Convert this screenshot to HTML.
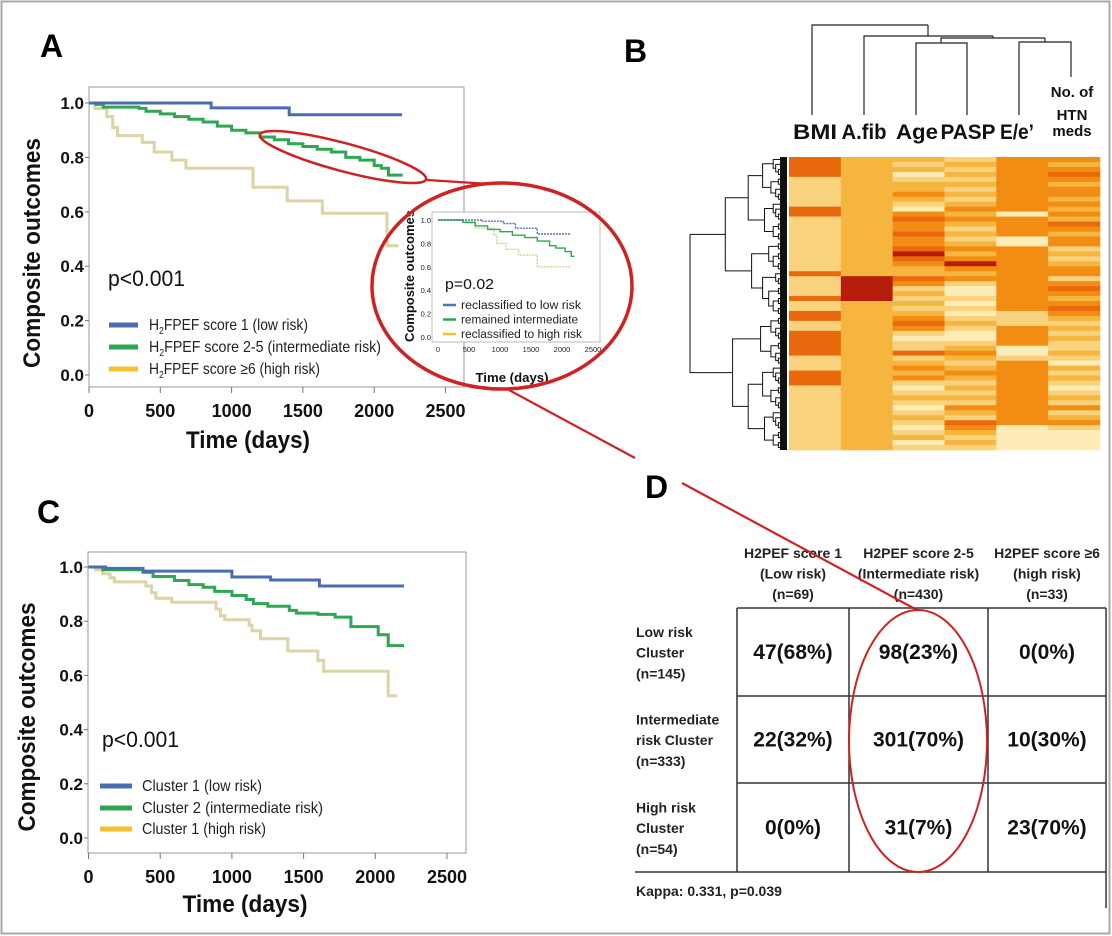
<!DOCTYPE html>
<html><head><meta charset="utf-8"><style>
html,body{margin:0;padding:0;background:#fff;}
svg{display:block;font-family:"Liberation Sans",sans-serif;}
</style></head><body>
<svg id="fig" width="1112" height="936" viewBox="0 0 1112 936">
<rect x="1.5" y="1.5" width="1108" height="932" fill="#fff" stroke="#a8a8a8" stroke-width="2"/>
<g id="gA"></g>
<g id="gB"></g>
<g id="gC"></g>
<g id="gD"></g>
<g id="gR"></g>
</svg>
<script>
// ---- Panel A data ----
const aLowT=[0,856,1404,2195];
const aLowS=[1,0.982,0.957,0.957];
const aIntT=[0,50,100,350,400,500,600,700,800,900,1000,1100,1200,1300,1400,1500,1600,1700,1800,1900,2000,2050,2100,2200];
const aIntS=[1,0.995,0.985,0.98,0.97,0.96,0.95,0.94,0.93,0.915,0.9,0.89,0.875,0.865,0.85,0.84,0.83,0.82,0.8,0.79,0.77,0.76,0.735,0.735];
const aHighT=[0,40,125,166,200,374,457,581,680,1150,1390,1636,2090,2170];
const aHighS=[1,0.98,0.95,0.91,0.88,0.855,0.82,0.79,0.76,0.69,0.64,0.595,0.475,0.475];
// ---- Inset data ----
const iLowT=[0,700,1050,1250,1600,2150];
const iLowS=[1,0.99,0.97,0.93,0.88,0.88];
const iIntT=[0,400,600,800,1000,1200,1400,1600,1800,1900,2050,2150,2200];
const iIntS=[1,0.98,0.95,0.92,0.9,0.87,0.85,0.82,0.78,0.76,0.73,0.69,0.69];
const iHighT=[0,450,600,900,950,1100,1300,1600,2150];
const iHighS=[1,0.97,0.93,0.87,0.8,0.75,0.7,0.6,0.6];
// ---- Panel C data ----
const cLowT=[0,120,380,1000,1270,1610,2200];
const cLowS=[1,0.995,0.985,0.963,0.952,0.93,0.93];
const cIntT=[0,100,380,450,600,700,800,880,1000,1100,1150,1250,1400,1450,1600,1720,1830,2020,2090,2200];
const cIntS=[1,0.99,0.98,0.965,0.95,0.935,0.925,0.91,0.895,0.88,0.865,0.855,0.84,0.83,0.825,0.815,0.78,0.75,0.71,0.71];
const cHighT=[0,50,100,150,180,400,440,470,580,890,920,950,1120,1140,1200,1390,1600,1640,2090,2150];
const cHighS=[1,0.99,0.975,0.96,0.945,0.93,0.905,0.885,0.87,0.845,0.82,0.805,0.785,0.765,0.735,0.69,0.655,0.615,0.525,0.525];
const xTicks=[0,500,1000,1500,2000,2500];
const yTicks=[0,0.2,0.4,0.6,0.8,1.0];
const yTickLabels=["0.0","0.2","0.4","0.6","0.8","1.0"];
// ---- Panel B data ----
const hmVars=["BMI","A.fib","Age","PASP","E/e'","HTN"];
const hmBMI ="44441111114411111111111411114114411444441114441111111111111";
const hmAfib="22222222222222222222222255555222222222222222222222222222222";
const hmAge ="21201223210343343345432243121212343101141232310121012101201";
const hmPASP="12121212123232121232353231001010121001232123212121321432121020";
const hmEe  ="33333333333033330033333333333331113333001333333333333300000000";
const hmHTN ="32343233232324323312123313432343212121121021210121312310000";
// ---- Panel D data ----
const dColHead=[["H2PEF score 1","(Low risk)","(n=69)"],["H2PEF score 2-5","(Intermediate risk)","(n=430)"],["H2PEF score ≥6","(high risk)","(n=33)"]];
const dRowHead=[["Low risk","Cluster","(n=145)"],["Intermediate","risk Cluster","(n=333)"],["High risk","Cluster","(n=54)"]];
const dCells=[["47(68%)","98(23%)","0(0%)"],["22(32%)","301(70%)","10(30%)"],["0(0%)","31(7%)","23(70%)"]];

const NS="http://www.w3.org/2000/svg";
function mk(parent,tag,attrs,text){const e=document.createElementNS(NS,tag);for(const k in attrs)e.setAttribute(k,attrs[k]);if(text!==undefined)e.textContent=text;parent.appendChild(e);return e;}
function stepPath(T,S,xf,yf){let d="M"+xf(T[0]).toFixed(1)+","+yf(S[0]).toFixed(1);for(let i=1;i<T.length;i++){d+=" H"+xf(T[i]).toFixed(1)+" V"+yf(S[i]).toFixed(1);}return d;}
const BLUE="#4a6db2",GREEN="#2fa650",TAN="#dcd3a6",YEL="#f2c230",RED="#cf2222";

function kmPanel(g,cfg){
  const xf=t=>cfg.x0+t*(cfg.x1-cfg.x0)/2500, yf=s=>cfg.y0-s*(cfg.y0-cfg.y1);
  let e=mk(g,"rect",{x:cfg.bx0,y:cfg.by0,width:cfg.bx1-cfg.bx0,height:cfg.by1-cfg.by0,fill:"none",stroke:"#9a9a9a","stroke-width":1});
  
  xTicks.forEach((t,i)=>{
    let l=mk(g,"line",{x1:xf(t),x2:xf(t),y1:cfg.by1,y2:cfg.by1+6,stroke:"#777"});
    
    let tx=mk(g,"text",{x:xf(t),y:cfg.by1+30,"font-size":18,"font-weight":"bold","text-anchor":"middle",fill:"#111"},String(t));
    
  });
  yTicks.forEach((v,i)=>{
    let l=mk(g,"line",{x1:cfg.bx0-4,x2:cfg.bx0,y1:yf(v),y2:yf(v),stroke:"#777"});
    
    let tx=mk(g,"text",{x:cfg.bx0-5,y:yf(v)+6,"font-size":17,"font-weight":"bold","text-anchor":"end",fill:"#111"},yTickLabels[i]);
    
  });
  cfg.series.forEach(s=>{
    let p=mk(g,"path",{d:stepPath(s.T,s.S,xf,yf),fill:"none",stroke:s.c,"stroke-width":s.w||3});
    
  });
  let yt=mk(g,"text",{transform:`translate(${cfg.ytx},${cfg.yty}) rotate(-90)`,"font-size":24,"font-weight":"bold","text-anchor":"middle",textLength:cfg.ytl,lengthAdjust:"spacingAndGlyphs",fill:"#111"},"Composite outcomes");
  
  let xt=mk(g,"text",{x:cfg.xtx,y:cfg.xty,"font-size":24,"font-weight":"bold","text-anchor":"middle",textLength:cfg.xtl,lengthAdjust:"spacingAndGlyphs",fill:"#111"},"Time (days)");
  
  let pv=mk(g,"text",{x:cfg.px,y:cfg.py,"font-size":22,textLength:77,lengthAdjust:"spacingAndGlyphs",fill:"#111"},"p<0.001");
  
  cfg.legend.forEach((L,i)=>{
    let y=cfg.ly[i];
    let l=mk(g,"line",{x1:cfg.lx0,x2:cfg.lx1,y1:y,y2:y,stroke:L.c,"stroke-width":5});
    
    let t=mk(g,"text",{x:cfg.ltx,y:y+5,"font-size":16,fill:"#222",textLength:L.w,lengthAdjust:"spacingAndGlyphs"});
    
    if(L.sub){mk(t,"tspan",{},"H");mk(t,"tspan",{"font-size":10,dy:4},"2");mk(t,"tspan",{dy:-4},L.text);}else t.textContent=L.text;
  });
}
const gA=document.getElementById("gA");
let la=mk(gA,"text",{x:40,y:57,"font-size":32,"font-weight":"bold",fill:"#000"},"A");

kmPanel(gA,{x0:89,x1:445.5,y0:375,y1:103,bx0:89,bx1:464,by0:87,by1:387,
 series:[{T:aHighT,S:aHighS,c:TAN,name:'line-high-risk'},{T:aIntT,S:aIntS,c:GREEN,name:'line-intermediate-risk'},{T:aLowT,S:aLowS,c:BLUE,name:'line-low-risk'}],
 ytx:40,yty:253,ytl:230,xtx:248,xty:448,xtl:124,px:108,py:286,
 lx0:109,lx1:138,ltx:149,ly:[325,347,369],
 legend:[{c:BLUE,sub:1,text:"FPEF score 1 (low risk)",w:159},{c:GREEN,sub:1,text:"FPEF score 2-5 (intermediate risk)",w:232},{c:YEL,sub:1,text:"FPEF score ≥6 (high risk)",w:171}]});

// inset
(function(){
  const g=mk(gA,"g",{});
  
  const xf=t=>438+t*(593-438)/2500, yf=s=>337-s*117;
  let r=mk(g,"rect",{x:432,y:212,width:168,height:130,fill:"#fff",stroke:"#bbb"});
  
  xTicks.forEach(t=>{let tx=mk(g,"text",{x:xf(t),y:352,"font-size":7.5,"text-anchor":"middle",fill:"#222"},String(t));});
  yTicks.forEach((v,i)=>{let tx=mk(g,"text",{x:431,y:yf(v)+3,"font-size":7.5,"text-anchor":"end",fill:"#222"},yTickLabels[i]);});
  [[iHighT,iHighS,"#d9cf98","2,1",'inset-line-high'],[iIntT,iIntS,GREEN,null,'inset-line-intermediate'],[iLowT,iLowS,"#5670b0","2,1",'inset-line-low']].forEach(s=>{
    const a={d:stepPath(s[0],s[1],xf,yf),fill:"none",stroke:s[2],"stroke-width":1.4};if(s[3])a["stroke-dasharray"]=s[3];
    let p=mk(g,"path",a);
  });
  let yt=mk(g,"text",{transform:"translate(414,276) rotate(-90)","font-size":13,"font-weight":"bold","text-anchor":"middle",textLength:132,lengthAdjust:"spacingAndGlyphs",fill:"#111"},"Composite outcomes");
  
  let xt=mk(g,"text",{x:512,y:382,"font-size":13,"font-weight":"bold","text-anchor":"middle",textLength:73,lengthAdjust:"spacingAndGlyphs",fill:"#111"},"Time (days)");
  
  let pv=mk(g,"text",{x:445,y:289,"font-size":15,textLength:49,lengthAdjust:"spacingAndGlyphs",fill:"#111"},"p=0.02");
  
  [["#5670b0","reclassified to low risk",120],[GREEN,"remained intermediate",117],[YEL,"reclassified to high risk",121]].forEach((L,i)=>{
    const y=305+i*14.5;
    let l=mk(g,"line",{x1:443,x2:456,y1:y,y2:y,stroke:L[0],"stroke-width":2.5});
    let t=mk(g,"text",{x:461,y:y+4,"font-size":11.5,fill:"#222",textLength:L[2],lengthAdjust:"spacingAndGlyphs"},L[1]);
  });
})();

const gC=document.getElementById("gC");
let lc=mk(gC,"text",{x:37,y:523,"font-size":32,"font-weight":"bold",fill:"#000"},"C");

kmPanel(gC,{x0:88.5,x1:447,y0:838,y1:567,bx0:88,bx1:466,by0:552,by1:853,
 series:[{T:cHighT,S:cHighS,c:TAN,name:'line-high-risk'},{T:cIntT,S:cIntS,c:GREEN,name:'line-intermediate-risk'},{T:cLowT,S:cLowS,c:BLUE,name:'line-low-risk'}],
 ytx:35,yty:717,ytl:229,xtx:245,xty:912,xtl:125,px:102,py:747,
 lx0:100,lx1:132,ltx:142,ly:[786,808,829],
 legend:[{c:BLUE,text:"Cluster 1 (low risk)",w:120},{c:GREEN,text:"Cluster 2 (intermediate risk)",w:181},{c:YEL,text:"Cluster 1 (high risk)",w:124}]});

// ---- Panel B ----
const gB=document.getElementById("gB");
let lb=mk(gB,"text",{x:624,y:62,"font-size":32,"font-weight":"bold",fill:"#000"},"B");

const hmColors=["#fdecb6","#f9d27d","#f5b53f","#f28c12","#ea690c","#b51c0a"];
const hmCols=[hmBMI,hmAfib,hmAge,hmPASP,hmEe,hmHTN];
const NROW=59, HX0=789, HX1=1100, HY0=157, HY1=450;
const cw=(HX1-HX0)/6, rh=(HY1-HY0)/NROW;
hmCols.forEach((col,ci)=>{
  for(let r=0;r<NROW;r++){
    const v=+col[r];
    let c=mk(gB,"rect",{x:HX0+ci*cw,y:HY0+r*rh,width:cw+0.3,height:rh+0.3,fill:hmColors[v]});
    
  }
});
// column labels
[["BMI",815,44],["A.fib",864,45],["Age",917,42],["PASP",968,55],["E/e’",1017,34]].forEach(L=>{
  let t=mk(gB,"text",{x:L[1],y:139,"font-size":21,"font-weight":"bold","text-anchor":"middle",textLength:L[2],lengthAdjust:"spacingAndGlyphs",fill:"#111"},L[0]);
  
});
[["No. of",97],["HTN",120],["meds",136]].forEach(L=>{
  let t=mk(gB,"text",{x:1072,y:L[1],"font-size":15,"font-weight":"bold","text-anchor":"middle",fill:"#111"},L[0]);
  
});
// top dendrogram
(function(){
  const d="M812,115 V25 H928 M864,115 V36 H993 M916,115 V43 H967 V115 M941,43 V38 H1045 M1019,115 V42 H1071 V77 M1045,42 V38 M993,38 V36 M928,25 V36";
  let p=mk(gB,"path",{d:d,fill:"none",stroke:"#222","stroke-width":1.2});
  
})();
// left dendrogram
(function(){
  let d="";
  function build(lo,hi){
    if(hi===lo) return {x:786,y:HY0+(lo+0.5)*rh};
    const n=hi-lo+1;
    const mid=lo+Math.max(0,Math.floor(n*((lo+hi)%3===0?0.4:0.55))-1);
    const a=build(lo,mid), b=build(mid+1,hi);
    const x=786-96*Math.pow(n/NROW,0.75);
    d+=`M${a.x.toFixed(1)},${a.y.toFixed(1)} H${x.toFixed(1)} V${b.y.toFixed(1)} H${b.x.toFixed(1)} `;
    return {x:x,y:(a.y+b.y)/2};
  }
  build(0,NROW-1);
  let p=mk(gB,"path",{d:d,fill:"none",stroke:"#111","stroke-width":1});
  
  let s=mk(gB,"rect",{x:780,y:HY0,width:7,height:HY1-HY0,fill:"#111"});
  
})();

// ---- Panel D ----
const gD=document.getElementById("gD");
let ld=mk(gD,"text",{x:645,y:498,"font-size":32,"font-weight":"bold",fill:"#000"},"D");

const colX=[737,849,988,1106], rowY=[608,696,783,872];
dColHead.forEach((h,ci)=>{
  const cx=(colX[ci]+colX[ci+1])/2;
  h.forEach((s,li)=>{let t=mk(gD,"text",{x:cx,y:558+li*20.5,"font-size":14,"font-weight":"bold","text-anchor":"middle",fill:"#222"},s);});
});
dRowHead.forEach((h,ri)=>{
  const cy=(rowY[ri]+rowY[ri+1])/2;
  h.forEach((s,li)=>{let t=mk(gD,"text",{x:636,y:cy-15+li*20.7,"font-size":14,"font-weight":"bold",fill:"#222"},s);});
});
dCells.forEach((row,ri)=>row.forEach((v,ci)=>{
  let t=mk(gD,"text",{x:(colX[ci]+colX[ci+1])/2,y:(rowY[ri]+rowY[ri+1])/2+7,"font-size":21,"font-weight":"bold","text-anchor":"middle",fill:"#111"},v);
  
}));
(function(){
  let d="";
  colX.forEach(x=>{d+=`M${x},${rowY[0]} V${rowY[3]} `;});
  rowY.forEach((y,i)=>{d+=`M${i===3?635:colX[0]},${y} H${colX[3]} `;});
  d+=`M${colX[3]},${rowY[3]} V908`;
  let p=mk(gD,"path",{d:d,fill:"none",stroke:"#333","stroke-width":1.5});
  
  let k=mk(gD,"text",{x:636,y:896,"font-size":14,"font-weight":"bold",fill:"#222"},"Kappa: 0.331, p=0.039");
  
})();

// ---- red zoom annotations ----
(function(){
  const g=document.getElementById("gR");
  let e1=mk(g,"ellipse",{cx:343,cy:157,rx:86,ry:14,transform:"rotate(15 343 157)",fill:"none",stroke:RED,"stroke-width":2.5});
  
  let e2=mk(g,"ellipse",{cx:502,cy:286,rx:130,ry:103,fill:"none",stroke:RED,"stroke-width":3.5});
  
  let e3=mk(g,"ellipse",{cx:918,cy:741,rx:69,ry:131,fill:"none",stroke:RED,"stroke-width":2});
  
  let l=mk(g,"path",{d:"M427,180 L490,184 M507,389 L635,458 M682,483 L917,610",fill:"none",stroke:RED,"stroke-width":2.2});
  
})();
</script>
</body></html>
